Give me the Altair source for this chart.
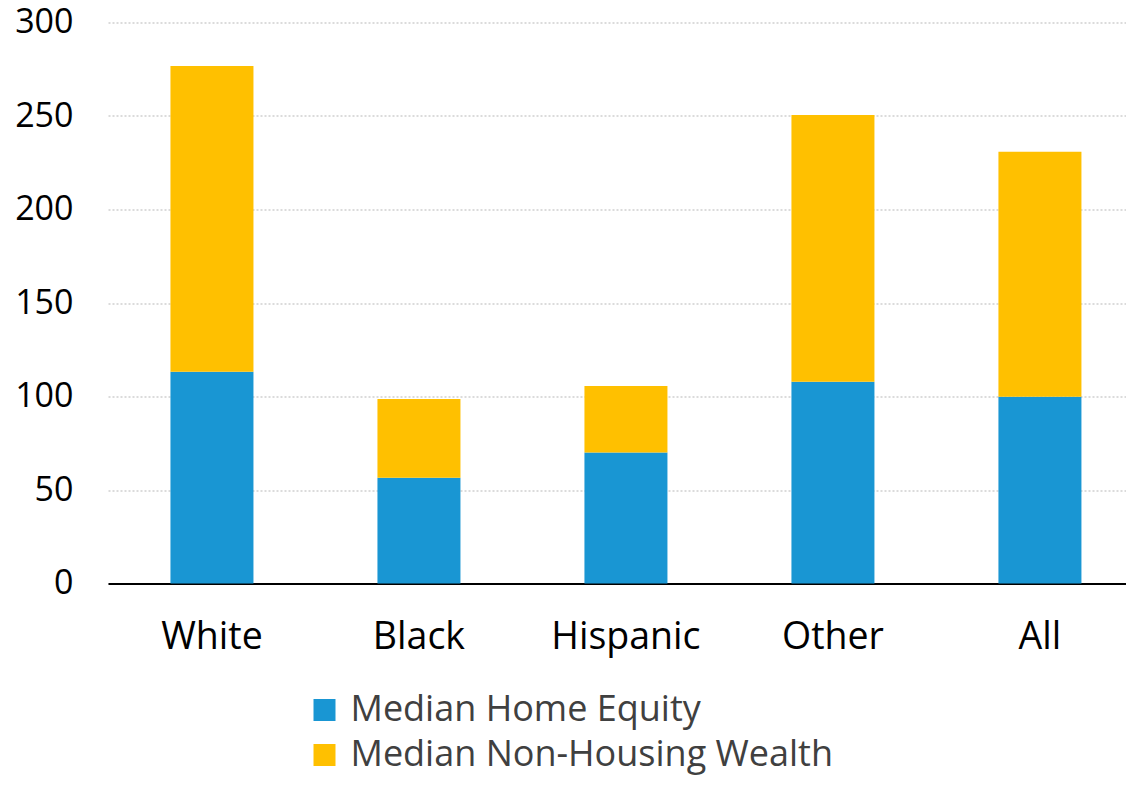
import altair as alt
import pandas as pd

categories = ["White", "Black", "Hispanic", "Other", "All"]
home_equity = [113.2, 56.5, 70.1, 107.9, 99.8]
non_housing = [163.6, 42.1, 35.5, 142.7, 131.1]
series = ["Median Home Equity", "Median Non-Housing Wealth"]
colors = ["#1996D3", "#FFC000"]
y_ticks = [0, 50, 100, 150, 200, 250, 300]

rows = []
for c, h, n in zip(categories, home_equity, non_housing):
    rows.append({"group": c, "series": series[0], "value": h, "ord": 0})
    rows.append({"group": c, "series": series[1], "value": n, "ord": 1})
df = pd.DataFrame(rows)

FONT = "Open Sans"

chart = alt.Chart(df).mark_bar().encode(
    x=alt.X("group:N", sort=categories, title=None,
            scale=alt.Scale(paddingInner=0.599, paddingOuter=0.2585, align=0.5836, round=False),
            axis=alt.Axis(labelAngle=0, labelFontSize=37.5, labelColor="#000000", labelFont=FONT,
                          domainColor="#000000", domainWidth=2, ticks=False, labelPadding=35,
                          grid=False)),
    y=alt.Y("value:Q", stack="zero", title=None,
            scale=alt.Scale(domain=[0, 300], nice=False),
            axis=alt.Axis(values=y_ticks, labelFontSize=34, labelColor="#000000", labelFont=FONT,
                          domain=False, ticks=False, labelPadding=35,
                          grid=True, gridColor="#CFCFCF", gridDash=[2, 2], gridWidth=1.5)),
    color=alt.Color("series:N", sort=series,
                    scale=alt.Scale(domain=series, range=colors),
                    legend=alt.Legend(title=None, orient="none", legendX=198.5, legendY=669.5,
                                      direction="vertical", symbolType="square", symbolSize=484,
                                      symbolStrokeWidth=0, labelFontSize=36, labelColor="#404040",
                                      labelFont=FONT, labelOffset=8, rowPadding=9, padding=0,
                                      labelLimit=0)),
    order=alt.Order("ord:Q", sort="ascending"),
).properties(
    width=1018,
    height=561,
    autosize=alt.AutoSizeParams(type="none"),
    padding={"left": 100, "top": 14.5, "right": 0, "bottom": 193.5},
).configure_view(stroke=None)

chart.save("out.html", embed_options={"renderer": "svg", "actions": False})
